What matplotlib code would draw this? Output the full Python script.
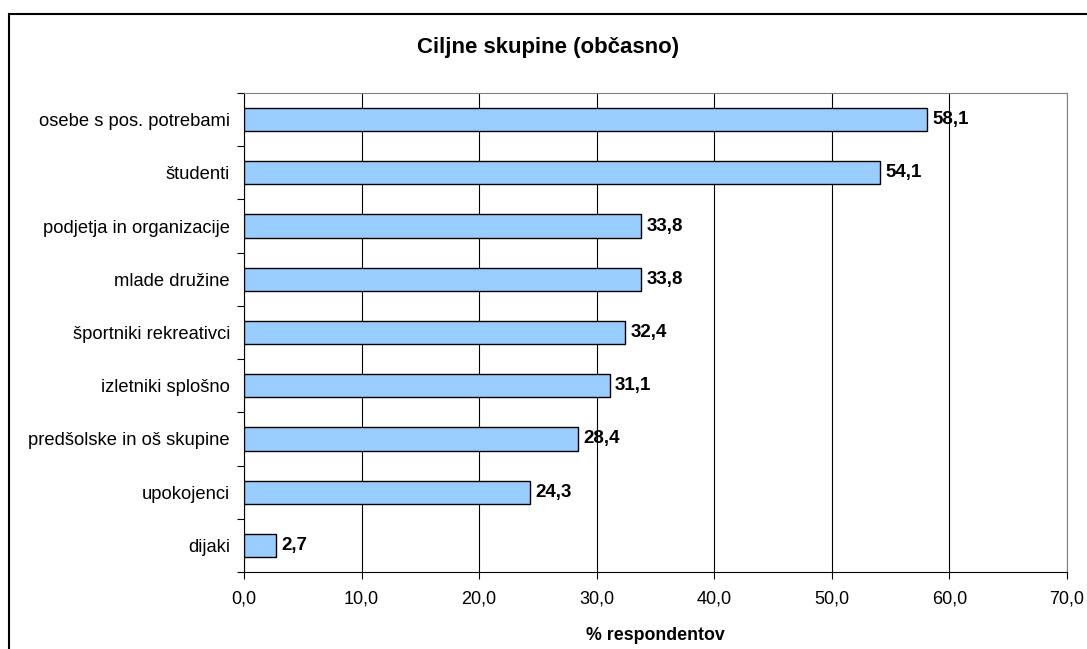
import matplotlib
matplotlib.use("Agg")
import matplotlib.pyplot as plt
from matplotlib.patches import Rectangle
from matplotlib.ticker import FuncFormatter, FixedLocator

categories = [
    "osebe s pos. potrebami",
    "študenti",
    "podjetja in organizacije",
    "mlade družine",
    "športniki rekreativci",
    "izletniki splošno",
    "predšolske in oš skupine",
    "upokojenci",
    "dijaki",
]
values = [58.1, 54.1, 33.8, 33.8, 32.4, 31.1, 28.4, 24.3, 2.7]
x_ticks = [0, 10, 20, 30, 40, 50, 60, 70]

plt.rcParams["font.family"] = ["Liberation Sans", "DejaVu Sans"]

fig = plt.figure(figsize=(10.87, 6.49), dpi=100)
ax = fig.add_axes([244 / 1087, 1 - 572 / 649, (1067 - 244) / 1087, (572 - 93) / 649])

# outer chart frame (runs off right and bottom edges)
fig.patches.append(Rectangle((9 / 1087, -0.1), 1.2, 1.1 - 14 / 649,
                             transform=fig.transFigure, fill=False,
                             edgecolor="black", linewidth=1.5))

n = len(categories)
ypos = [n - 1 - i for i in range(n)]
ax.barh(ypos, values, height=0.435, color="#99CCFF", edgecolor="black",
        linewidth=1, zorder=3)

for y, v in zip(ypos, values):
    ax.text(v + 0.45, y, f"{v:.1f}".replace(".", ","), va="center", ha="left",
            fontsize=13.5, fontweight="bold", zorder=4)

ax.set_xlim(0, 70)
ax.set_ylim(-0.5, n - 0.5)
ax.set_xticks(x_ticks)
ax.xaxis.set_major_formatter(FuncFormatter(lambda v, p: f"{v:.1f}".replace(".", ",")))
ax.grid(axis="x", color="black", linewidth=0.8, zorder=0)

ax.set_yticks(ypos)
ax.set_yticklabels(categories)
ax.yaxis.set_minor_locator(FixedLocator([i - 0.5 for i in range(n + 1)]))
ax.tick_params(axis="y", which="major", length=0, pad=10, labelsize=13.2)
ax.tick_params(axis="y", which="minor", length=5, width=0.8, color="black")
ax.tick_params(axis="x", length=5, width=0.8, labelsize=13, pad=8)

for s in ["top", "right"]:
    ax.spines[s].set_color("#808080")
ax.spines["left"].set_color("black")
ax.spines["bottom"].set_color("black")

ax.set_xlabel("% respondentov", fontsize=12.8, fontweight="bold", labelpad=14)
fig.text(548 / 1087, 1 - 47 / 649, "Ciljne skupine (občasno)", ha="center",
         va="center", fontsize=16, fontweight="bold")

fig.savefig("out.png", dpi=100)
